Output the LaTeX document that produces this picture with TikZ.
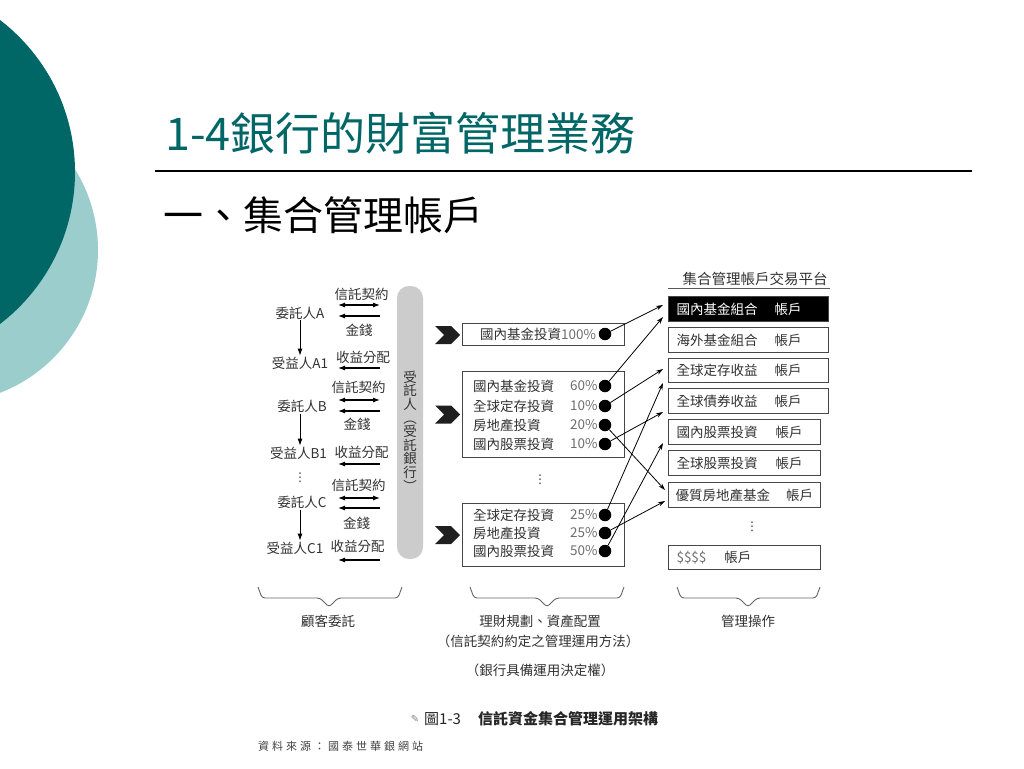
\documentclass[tikz,border=0pt]{standalone}
\usepackage{fontspec}
\setmainfont{Noto Sans CJK TC}
\newfontfamily\djv{DejaVu Sans}
\usetikzlibrary{arrows.meta,shapes.symbols}
\definecolor{tealdark}{RGB}{0,102,102}
\definecolor{teallight}{RGB}{155,205,205}
\definecolor{txt}{RGB}{50,50,50}
\definecolor{pct}{RGB}{110,110,110}
\definecolor{edge}{RGB}{70,70,70}
\newcommand\setfs[1]{\fontsize{#1}{#1}\selectfont}
\newcommand\srcgap{\hspace{3pt}}
\begin{document}
\begin{tikzpicture}[x=1pt,y=-1pt,
  lbl/.style={inner sep=1pt,text=txt,font=\setfs{13.5}},
  pctlbl/.style={inner sep=1pt,text=pct,font=\setfs{13.5},anchor=west},
  rowlbl/.style={inner sep=1pt,text=txt,font=\setfs{13.5},anchor=west},
  dotnode/.style={circle,fill=black,minimum size=12.5pt,inner sep=0pt},
  mbox/.style={draw=edge,line width=1pt,minimum width=162pt,inner sep=0pt},
  rbox/.style={draw=edge,line width=1pt,anchor=west,minimum height=24.5pt,inner xsep=0pt,inner ysep=0pt,align=left,text=txt,font=\setfs{13.5},text width=160pt},
  rboxs/.style={rbox,text width=152pt},
  chev/.style={shape=signal,signal from=west,signal to=east,fill=black!88,minimum width=25pt,minimum height=18pt,inner sep=0pt},
  dualarr/.style={{Latex[length=7pt,width=5pt]}-{Latex[length=7pt,width=5pt]},line width=1.1pt},
  onearr/.style={-{Latex[length=7pt,width=5pt]},line width=1.1pt},
  downarr/.style={-{Latex[length=7pt,width=5pt]},line width=0.9pt},
  link/.style={-{Stealth[length=7pt,width=4.5pt]},line width=0.8pt},
  bracepath/.style={draw=black!60,line width=0.9pt,rounded corners=3pt},
  vdotsnode/.style={inner sep=0pt,text=txt,font=\djv\setfs{12}}
]
\useasboundingbox (0,0) rectangle (1024,768);
\fill[white] (0,0) rectangle (1024,768);
\begin{scope}
\clip (0,0) rectangle (1024,768);
\fill[teallight] (-55,250) circle (153);
\fill[tealdark] (-116.5,172) circle (191.5);
\end{scope}

% title
\node[anchor=west,inner sep=0pt,font=\setfs{45},text=tealdark] (title) at (165,133) {1-4銀行的財富管理業務};
\draw[line width=1.3pt] (155,171) -- (972,171);
\node[anchor=west,inner sep=0pt,font=\setfs{40}] (sub) at (163,215) {一、集合管理帳戶};

% left column group A
\node[lbl] (tA) at (300,313) {委託人A};
\node[lbl] (bA) at (300,363) {受益人A1};
\node[lbl] (cA) at (361.5,294) {信託契約};
\node[lbl] (mA) at (359,330) {金錢};
\node[lbl] (pA) at (363,357) {收益分配};
\coordinate (dA1) at (338,305); \coordinate (dA2) at (380,305);
\coordinate (lA1) at (380,316); \coordinate (lA2) at (338,316);
\coordinate (rA1) at (380,368); \coordinate (rA2) at (338,368);
\draw[dualarr] (dA1) -- (dA2);
\draw[onearr] (lA1) -- (lA2);
\draw[onearr] (rA1) -- (rA2);
\draw[downarr] (tA.south) -- (tA.south |- bA.north);

% group B
\node[lbl] (tB) at (302,406) {委託人B};
\node[lbl] (bB) at (298.5,453) {受益人B1};
\node[lbl] (cB) at (358.5,387) {信託契約};
\node[lbl] (mB) at (357,424) {金錢};
\node[lbl] (pB) at (361.5,452) {收益分配};
\coordinate (dB1) at (338,400); \coordinate (dB2) at (380,400);
\coordinate (lB1) at (380,411); \coordinate (lB2) at (338,411);
\coordinate (rB1) at (380,464); \coordinate (rB2) at (338,464);
\draw[dualarr] (dB1) -- (dB2);
\draw[onearr] (lB1) -- (lB2);
\draw[onearr] (rB1) -- (rB2);
\coordinate (sB) at (300,414);
\draw[downarr] (sB) -- (sB |- bB.north);

\node[vdotsnode] (vl) at (300,478) {⋮};

% group C
\node[lbl] (tC) at (302,502) {委託人C};
\node[lbl] (bC) at (295,548) {受益人C1};
\node[lbl] (cC) at (358.5,485) {信託契約};
\node[lbl] (mC) at (356.5,523) {金錢};
\node[lbl] (pC) at (357.5,546) {收益分配};
\coordinate (dC1) at (338,498); \coordinate (dC2) at (380,498);
\coordinate (lC1) at (380,508); \coordinate (lC2) at (338,508);
\coordinate (rC1) at (380,560); \coordinate (rC2) at (338,560);
\draw[dualarr] (dC1) -- (dC2);
\draw[onearr] (lC1) -- (lC2);
\draw[onearr] (rC1) -- (rC2);
\coordinate (sC) at (300,510);
\draw[downarr] (sC) -- (sC |- bC.north);

% trustee bar
\node[fill=gray!40,rounded corners=12pt,minimum width=26pt,minimum height=273pt,inner sep=0pt] (bar) at (410,422.5) {};
\node[inner sep=0pt,text=txt,font=\fontsize{13.5}{13.6}\selectfont,align=center] (vt) at (410,431) {受\\託\\人\\︵\\受\\託\\銀\\行\\︶};

% chevrons
\node[chev] (chA) at (447.5,335) {};
\node[chev] (chB) at (447.5,414.5) {};
\node[chev] (chC) at (447.5,535) {};

% middle boxes
\node[mbox,minimum height=22pt] (M1) at (543,334) {};
\node[mbox,minimum height=86pt] (M2) at (543,414) {};
\node[mbox,minimum height=63pt] (M3) at (543,534.5) {};

\node[rowlbl] (t1) at (479,334) {國內基金投資{\color{pct}100\%}};
\node[dotnode] (d1) at (605,334) {};

\node[rowlbl] (t21) at (472,386) {國內基金投資};
\node[rowlbl] (t22) at (472,406) {全球定存投資};
\node[rowlbl] (t23) at (472,425) {房地產投資};
\node[rowlbl] (t24) at (472,444) {國內股票投資};
\node[pctlbl] (p21) at (569,386) {60\%};
\node[pctlbl] (p22) at (569,406) {10\%};
\node[pctlbl] (p23) at (569,425) {20\%};
\node[pctlbl] (p24) at (569,444) {10\%};
\node[dotnode] (d21) at (605,386) {};
\node[dotnode] (d22) at (605,406) {};
\node[dotnode] (d23) at (605,425) {};
\node[dotnode] (d24) at (605,444) {};

\node[vdotsnode] (vm) at (540,480) {⋮};

\node[rowlbl] (t31) at (472,515) {全球定存投資};
\node[rowlbl] (t32) at (472,533) {房地產投資};
\node[rowlbl] (t33) at (472,551) {國內股票投資};
\node[pctlbl] (p31) at (569,515) {25\%};
\node[pctlbl] (p32) at (569,533) {25\%};
\node[pctlbl] (p33) at (569,551) {50\%};
\node[dotnode] (d31) at (605,515) {};
\node[dotnode] (d32) at (605,533) {};
\node[dotnode] (d33) at (605,551) {};

% right column
\node[lbl,font=\setfs{14.5}] (rt) at (755,279) {集合管理帳戶交易平台};
\draw[draw=black!65,line width=1pt] (668,288) -- (830,288);
\node[rbox,fill=black,text=white] (R1) at (668,309) {\hspace*{8pt}國內基金組合\hspace{17pt}帳戶};
\node[rbox] (R2) at (668,340) {\hspace*{8pt}海外基金組合\hspace{17pt}帳戶};
\node[rbox] (R3) at (668,370.5) {\hspace*{8pt}全球定存收益\hspace{17pt}帳戶};
\node[rbox] (R4) at (668,401) {\hspace*{8pt}全球債券收益\hspace{17pt}帳戶};
\node[rboxs] (R5) at (668,432) {\hspace*{8pt}國內股票投資\hspace{18pt}帳戶};
\node[rboxs] (R6) at (668,463) {\hspace*{8pt}全球股票投資\hspace{18pt}帳戶};
\node[rboxs] (R7) at (668,495) {\hspace*{7pt}優質房地產基金\hspace{16pt}帳戶};
\node[vdotsnode] (vr) at (752,527) {⋮};
\node[rboxs] (R8) at (668,557.5) {\hspace*{8pt}{\color{pct}\$\$\$\$}\hspace{18pt}帳戶};

% links
\coordinate (e1) at (663,305);
\coordinate (e2) at (663,317);
\coordinate (e3) at (663,369);
\coordinate (e4) at (665,490);
\coordinate (e5) at (663,412);
\coordinate (e6) at (663,383);
\coordinate (e7) at (665,501);
\coordinate (e8) at (663,443);
\draw[link] (d1) -- (e1);
\draw[link] (d21) -- (e2);
\draw[link] (d22) -- (e3);
\draw[link] (d23) -- (e4);
\draw[link] (d24) -- (e5);
\draw[link] (d31) -- (e6);
\draw[link] (d32) -- (e7);
\draw[link] (d33) -- (e8);

% braces
\draw[bracepath] (258,587) -- (262,598) -- (320,598) -- (329,607) -- (338,598) -- (398,598) -- (402,587);
\draw[bracepath] (470,587) -- (474,598) -- (538,598) -- (547,607) -- (556,598) -- (620,598) -- (624,587);
\draw[bracepath] (677,587) -- (681,598) -- (739,598) -- (748,607) -- (757,598) -- (816,598) -- (820,587);

\node[lbl] (g1) at (328,621) {顧客委託};
\node[lbl] (g2) at (540,621) {理財規劃、資產配置};
\node[lbl] (g2b) at (538,641) {（信託契約約定之管理運用方法）};
\node[lbl] (g2c) at (540,670) {（銀行具備運用決定權）};
\node[lbl] (g3) at (748,621) {管理操作};

% caption
\node[inner sep=0pt,font=\djv\setfs{10},text=gray] (icon) at (415,719) {✎};
\node[anchor=west,inner sep=0pt,font=\setfs{15},text=black!85] (cap) at (424,719) {圖1-3\hspace{17pt}{\bfseries 信託資金集合管理運用架構}};
\node[anchor=west,inner sep=0pt,font=\setfs{11},text=black!75] (src) at (258,746) {資\srcgap 料\srcgap 來\srcgap 源\srcgap ：\srcgap 國\srcgap 泰\srcgap 世\srcgap 華\srcgap 銀\srcgap 網\srcgap 站};
\end{tikzpicture}
\end{document}
